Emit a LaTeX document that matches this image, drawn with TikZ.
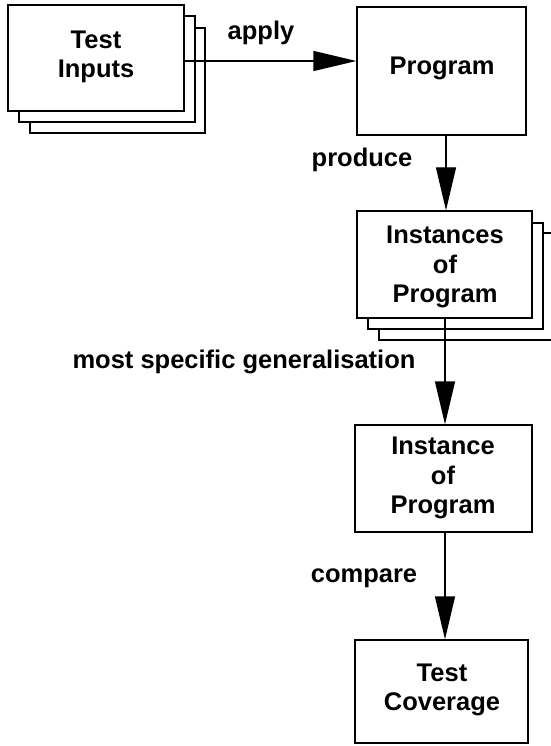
\documentclass[tikz,border=0pt]{standalone}
\usepackage{fontspec}
\setmainfont{Liberation Sans}
\usetikzlibrary{arrows.meta}

\begin{document}
\begin{tikzpicture}[x=1pt,y=-1pt,
  line width=1.3pt,
  txt/.style={font=\bfseries\fontsize{25.5}{29.5}\selectfont, align=center, inner sep=0pt},
  sheet/.style={draw, fill=white},
  flow/.style={-{Triangle[length=43pt,width=20pt]}}
]
\useasboundingbox (0,0) rectangle (550,746);

% Test Inputs: a stack of three sheets
\draw[sheet] (30,28) rectangle (205,133);
\draw[sheet] (19,16) rectangle (195,122);
\node[sheet, minimum width=176pt, minimum height=106pt, inner sep=0pt] (inputs) at (96,58) {};
\node[txt] at (96,57) {Test\\Inputs};

% Program
\node[draw, minimum width=169pt, minimum height=128pt, inner sep=0pt] (prog) at (441.5,71) {};
\node[txt] at (442,68) {Program};

% Instances of Program: stack of three sheets
\draw[sheet] (379,233) rectangle (556,340);
\draw[sheet] (368,223) rectangle (543,329);
\node[sheet, minimum width=175pt, minimum height=107pt, inner sep=0pt] (insts) at (444.5,264.5) {};
\node[txt] at (445,267) {Instances\\of\\Program};

% Instance of Program
\node[draw, minimum width=177pt, minimum height=107pt, inner sep=0pt] (inst) at (443.5,478.5) {};
\node[txt] at (443,478) {Instance\\of\\Program};

% Test Coverage
\node[draw, minimum width=173pt, minimum height=103pt, inner sep=0pt] (cov) at (441.5,691.5) {};
\node[txt] at (442,690) {Test\\Coverage};

% connectors
\draw[flow] (inputs.east |- 0,61) -- (prog.west |- 0,61);
\draw[flow] (prog.south -| 446,0) -- (insts.north -| 446,0);
\draw[flow] (insts.south -| 445,0) -- (inst.north -| 445,0);
\draw[flow] (inst.south -| 445,0) -- (cov.north -| 445,0);

% connector labels
\node[txt] (lapply) at (261,33) {apply};
\node[txt] (lprod) at (362,160) {produce};
\node[txt] (lmsg) at (244,362) {most specific generalisation};
\node[txt] (lcomp) at (364,578) {compare};
\end{tikzpicture}
\end{document}
